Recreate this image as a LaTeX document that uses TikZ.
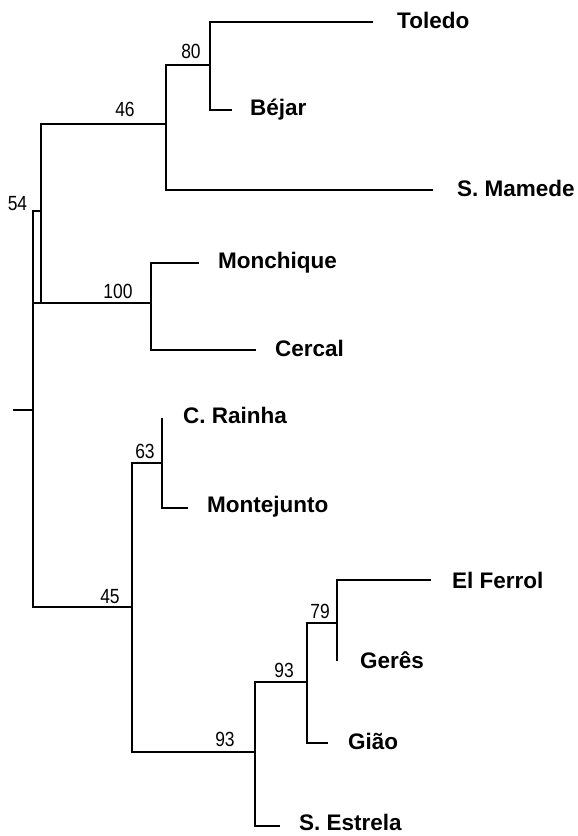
\documentclass[tikz,border=0pt]{standalone}
\usepackage{fontspec}
\setmainfont{Liberation Sans}
\usepackage{graphicx}
\begin{document}
\begin{tikzpicture}[x=1pt,y=-1pt,
  branch/.style={line width=2.4pt,line cap=butt},
  taxon/.style={anchor=base west,inner sep=0pt,font=\bfseries\fontsize{22.5}{26}\selectfont},
  support/.style={anchor=base,inner sep=0pt,font=\fontsize{20.5}{24}\selectfont}]
\useasboundingbox (0,0) rectangle (578,836);

% internal nodes (x of the vertical bar, y of the incoming branch)
\coordinate (root) at (33,410);
\coordinate (stub) at (13,410);
\coordinate (n54) at (41,211);
\coordinate (n46) at (166,124);
\coordinate (n80) at (210,65);
\coordinate (n100) at (151,303);
\coordinate (n45) at (132,607);
\coordinate (n63) at (162,463);
\coordinate (n93a) at (255,752);
\coordinate (n93b) at (307,682);
\coordinate (n79) at (337,623);

% branch tips
\coordinate (tToledo) at (373,22);
\coordinate (tBejar) at (232,110);
\coordinate (tMamede) at (433,190);
\coordinate (tMonchique) at (199,263);
\coordinate (tCercal) at (256,350);
\coordinate (tRainha) at (162,418);
\coordinate (tMontejunto) at (188,508);
\coordinate (tFerrol) at (431,580);
\coordinate (tGeres) at (337,661);
\coordinate (tGiao) at (328,743);
\coordinate (tEstrela) at (280,826);

% branches
\draw[branch] (stub) -- (root);
\draw[branch] (root) |- (n54);
\draw[branch] (root) |- (n45);
\draw[branch] (n54) |- (n46);
\draw[branch] (n54) |- (n100);
\draw[branch] (root |- n100) -- (n100);
\draw[branch] (n46) |- (n80);
\draw[branch] (n46) |- (tMamede);
\draw[branch] (n80) |- (tToledo);
\draw[branch] (n80) |- (tBejar);
\draw[branch] (n100) |- (tMonchique);
\draw[branch] (n100) |- (tCercal);
\draw[branch] (n45) |- (n63);
\draw[branch] (n45) |- (n93a);
\draw[branch] (n63) |- (tRainha);
\draw[branch] (n63) |- (tMontejunto);
\draw[branch] (n93a) |- (n93b);
\draw[branch] (n93a) |- (tEstrela);
\draw[branch] (n93b) |- (n79);
\draw[branch] (n93b) |- (tGiao);
\draw[branch] (n79) |- (tFerrol);
\draw[branch] (n79) |- (tGeres);

% taxon names
\node[taxon] (Toledo) at (397,28) {Toledo};
\node[taxon] (Bejar) at (250,115) {Béjar};
\node[taxon] (Mamede) at (457,196) {S. Mamede};
\node[taxon] (Monchique) at (218,268) {Monchique};
\node[taxon] (Cercal) at (275,356) {Cercal};
\node[taxon] (Rainha) at (183,423) {C. Rainha};
\node[taxon] (Montejunto) at (207,512) {Montejunto};
\node[taxon] (Ferrol) at (452,588) {El Ferrol};
\node[taxon] (Geres) at (360,668) {Gerês};
\node[taxon] (Giao) at (348,749) {Gião};
\node[taxon] (Estrela) at (299,830) {S. Estrela};

% bootstrap support values
\node[support] (b80) at (191,58) {\scalebox{0.85}[1]{80}};
\node[support] (b46) at (125,116) {\scalebox{0.85}[1]{46}};
\node[support] (b54) at (17.5,210) {\scalebox{0.85}[1]{54}};
\node[support] (b100) at (118,298) {\scalebox{0.85}[1]{100}};
\node[support] (b63) at (145,458) {\scalebox{0.85}[1]{63}};
\node[support] (b45) at (110,603) {\scalebox{0.85}[1]{45}};
\node[support] (b93a) at (225,746) {\scalebox{0.85}[1]{93}};
\node[support] (b93b) at (284,677) {\scalebox{0.85}[1]{93}};
\node[support] (b79) at (320,618) {\scalebox{0.85}[1]{79}};
\end{tikzpicture}
\end{document}
